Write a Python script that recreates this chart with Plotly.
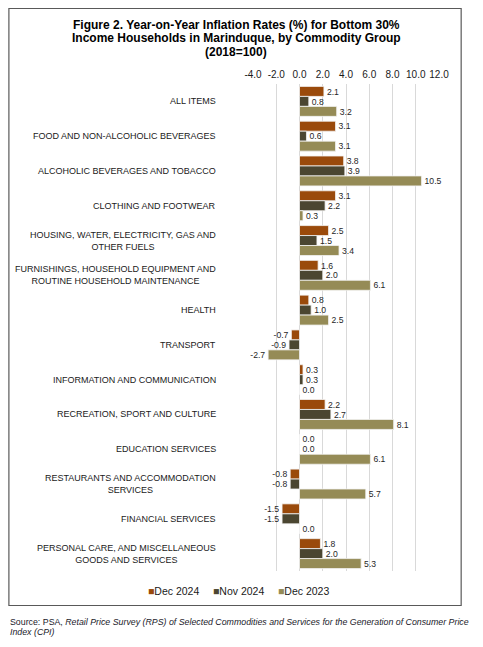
import plotly.graph_objects as go

categories = [
    "ALL ITEMS",
    "FOOD AND NON-ALCOHOLIC BEVERAGES",
    "ALCOHOLIC BEVERAGES AND TOBACCO",
    "CLOTHING AND FOOTWEAR",
    "HOUSING, WATER, ELECTRICITY, GAS AND<br>OTHER FUELS",
    "FURNISHINGS, HOUSEHOLD EQUIPMENT AND<br>ROUTINE HOUSEHOLD MAINTENANCE",
    "HEALTH",
    "TRANSPORT",
    "INFORMATION AND COMMUNICATION",
    "RECREATION, SPORT AND CULTURE",
    "EDUCATION SERVICES",
    "RESTAURANTS AND ACCOMMODATION<br>SERVICES",
    "FINANCIAL SERVICES",
    "PERSONAL CARE, AND MISCELLANEOUS<br>GOODS AND SERVICES",
]
dec_2024 = [2.1, 3.1, 3.8, 3.1, 2.5, 1.6, 0.8, -0.7, 0.3, 2.2, 0.0, -0.8, -1.5, 1.8]
nov_2024 = [0.8, 0.6, 3.9, 2.2, 1.5, 2.0, 1.0, -0.9, 0.3, 2.7, 0.0, -0.8, -1.5, 2.0]
dec_2023 = [3.2, 3.1, 10.5, 0.3, 3.4, 6.1, 2.5, -2.7, 0.0, 8.1, 6.1, 5.7, 0.0, 5.3]
series_names = ["Dec 2024", "Nov 2024", "Dec 2023"]
tick_vals = [-4, -2, 0, 2, 4, 6, 8, 10, 12]
tick_text = ["-4.0", "-2.0", "0.0", "2.0", "4.0", "6.0", "8.0", "10.0", "12.0"]
title_lines = [
    "Figure 2. Year-on-Year Inflation Rates (%) for Bottom 30%",
    "Income Households in Marinduque, by Commodity Group",
    "(2018=100)",
]
source_lines = [
    "Source: PSA, <i>Retail Price Survey (RPS) of Selected Commodities and Services for the Generation of Consumer Price</i>",
    "<i>Index (CPI)</i>",
]

colors = ["#9A4A0B", "#4B4631", "#958B56"]
FONT = "Liberation Sans, Arial, sans-serif"

# page has an 8px body margin; lay out in page pixels and convert
OFF = 8
W, H = 483 - OFF, 647 - OFF
L, R, T, B = 253, 439.3, 84, 571          # page pixels of plot area
pw, ph = R - L, B - T


def px(x):
    return (x - L) / pw


def py(y):
    return (B - y) / ph


fig = go.Figure()
for name, vals, c in zip(series_names, [dec_2024, nov_2024, dec_2023], colors):
    fig.add_trace(go.Bar(
        y=categories, x=vals, name=name, orientation="h",
        marker=dict(color=c, line=dict(color="#F2F2F2", width=0.8)),
        text=[f"{v:.1f}" for v in vals], textposition="outside",
        textfont=dict(family=FONT, size=9.5, color="#262626"),
        cliponaxis=False, showlegend=False,
    ))

annotations = []
for cat in categories:
    annotations.append(dict(
        x=px(218), xref="paper", y=cat, yref="y", xanchor="right", yanchor="middle",
        text=cat, showarrow=False, align="center",
        font=dict(family=FONT, size=9, color="#1a1a1a"),
    ))
for line, ty in zip(title_lines, [25, 38.3, 51.6]):
    annotations.append(dict(
        x=px(236), xref="paper", y=py(ty), yref="paper", xanchor="center", yanchor="middle",
        text=f"<b>{line}</b>", showarrow=False, align="center",
        font=dict(family=FONT, size=12, color="#000000"),
    ))
for line, sy in zip(source_lines, [622, 632]):
    annotations.append(dict(
        x=px(8), xref="paper", y=py(sy), yref="paper", xanchor="left", yanchor="middle",
        text=line, showarrow=False, align="left",
        font=dict(family=FONT, size=8.8, color="#1a1a2a"),
    ))
# legend
for name, c, lx in zip(series_names, colors, [146, 211, 276]):
    annotations.append(dict(
        x=px(lx), xref="paper", y=py(591), yref="paper", xanchor="left", yanchor="middle",
        text=f"<span style='color:{c}'>■</span>{name}",
        showarrow=False, align="left", font=dict(family=FONT, size=10.5, color="#1a1a1a"),
    ))

fig.update_layout(
    width=W, height=H,
    margin=dict(l=L - OFF, r=W - (R - OFF), t=T - OFF, b=H - (B - OFF), pad=0),
    paper_bgcolor="white", plot_bgcolor="white",
    barmode="group", bargap=0.14, bargroupgap=0,
    showlegend=False,
    xaxis=dict(range=[-4, 12], side="top", tickvals=tick_vals, ticktext=tick_text,
               showgrid=True, gridcolor="#D9D9D9", gridwidth=1, zeroline=False,
               showline=False, ticks="", ticklabelstandoff=3,
               tickfont=dict(family=FONT, size=10, color="#1a1a1a")),
    yaxis=dict(autorange="reversed", showticklabels=False, showgrid=False, zeroline=False,
               showline=False, ticks=""),
    annotations=annotations,
    shapes=[dict(type="rect", xref="paper", yref="paper",
                 x0=px(8.5), x1=px(461.5), y0=py(8.5), y1=py(605.5),
                 line=dict(color="#595959", width=1.2), fillcolor="rgba(0,0,0,0)", layer="below")],
)

fig.write_html("out.html")
